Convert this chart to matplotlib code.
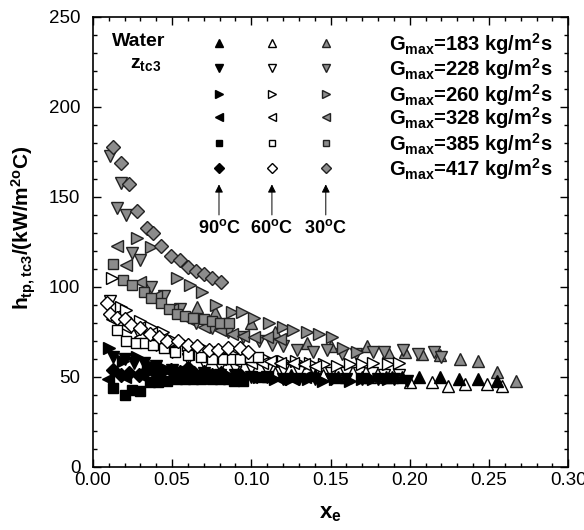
import matplotlib
matplotlib.use("Agg")
import matplotlib.pyplot as plt

plt.rcParams['font.family'] = ['Liberation Sans', 'DejaVu Sans']
plt.rcParams['mathtext.fontset'] = 'custom'
plt.rcParams['mathtext.rm'] = 'Liberation Sans:bold'
plt.rcParams['mathtext.bf'] = 'Liberation Sans:bold'
plt.rcParams['mathtext.it'] = 'Liberation Sans:bold'

# ---------------- data (x_e, h_tp) ----------------
G_labels = ["183", "228", "260", "328", "385", "417"]
temps = ["90", "60", "30"]
markers = ["^", "v", ">", "<", "s", "D"]

# 30 C (gray)
x_30_183 = [0.066, 0.077, 0.100, 0.115, 0.135, 0.150, 0.173, 0.186, 0.197, 0.208, 0.219, 0.232, 0.243, 0.255, 0.267]
y_30_183 = [89, 86, 80, 75, 69, 67, 67, 64, 64, 63, 62, 60, 59, 53, 48]
x_30_228 = [0.011, 0.015, 0.018, 0.021, 0.025, 0.030, 0.037, 0.045, 0.055, 0.065, 0.075, 0.085, 0.095, 0.105,
            0.113, 0.120, 0.129, 0.139, 0.148, 0.157, 0.166, 0.177, 0.184, 0.196, 0.205, 0.215, 0.220]
y_30_228 = [173, 144, 158, 140, 119, 115, 100, 95, 88, 80, 77, 75, 72, 70,
            68, 67, 65, 64, 65, 63, 63, 64, 64, 65, 63, 64, 61]
x_30_260 = [0.028, 0.037, 0.053, 0.061, 0.069, 0.078, 0.088, 0.094, 0.102, 0.111, 0.120, 0.126, 0.135, 0.143,
            0.151, 0.158, 0.167]
y_30_260 = [127, 122, 105, 101, 97, 90, 86, 86, 83, 80, 78, 76, 75, 74, 72, 66, 64]
x_30_328 = [0.015, 0.021, 0.030, 0.040, 0.050, 0.060, 0.070, 0.080, 0.088, 0.095, 0.102, 0.110, 0.118]
y_30_328 = [123, 112, 103, 95, 88, 82, 78, 76, 74, 73, 72, 72, 71]
x_30_385 = [0.013, 0.019, 0.025, 0.032, 0.037, 0.043, 0.048, 0.053, 0.058, 0.063, 0.070, 0.075, 0.080, 0.086]
y_30_385 = [113, 104, 101, 97, 94, 91, 88, 85, 84, 83, 82, 81, 80, 80]
x_30_417 = [0.013, 0.018, 0.023, 0.028, 0.034, 0.038, 0.043, 0.049, 0.055, 0.060, 0.065, 0.070, 0.075, 0.081]
y_30_417 = [178, 169, 157, 142, 133, 130, 123, 117, 115, 111, 109, 107, 105, 103]

# 60 C (white)
x_60_183 = [0.100, 0.115, 0.130, 0.145, 0.160, 0.175, 0.189, 0.200, 0.214, 0.224, 0.235, 0.249, 0.258]
y_60_183 = [53, 52, 51, 51, 50, 50, 50, 47, 47, 45, 46, 46, 45]
x_60_228 = [0.011, 0.020, 0.030, 0.040, 0.050, 0.060, 0.070, 0.080, 0.090, 0.100, 0.110, 0.120, 0.130,
            0.140, 0.150, 0.160, 0.168, 0.176, 0.184, 0.193]
y_60_228 = [92, 80, 73, 68, 64, 60, 58, 56, 55, 55, 54, 54, 53, 53, 52, 52, 52, 52, 51, 51]
x_60_260 = [0.012, 0.018, 0.021, 0.030, 0.037, 0.044, 0.052, 0.060, 0.070, 0.080, 0.090, 0.100, 0.110,
            0.120, 0.128, 0.137, 0.146, 0.154, 0.162, 0.170, 0.177, 0.186, 0.193]
y_60_260 = [105, 89, 87, 81, 78, 75, 70, 68, 66, 64, 62, 61, 60, 59, 59, 58, 57, 56, 57, 57, 58, 57, 58]
x_60_328 = [0.012, 0.020, 0.030, 0.040, 0.050, 0.060, 0.070, 0.080, 0.090, 0.100, 0.107, 0.112, 0.118,
            0.126, 0.133, 0.140]
y_60_328 = [82, 78, 72, 68, 65, 63, 62, 60, 59, 58, 58, 59, 58, 58, 57, 56]
x_60_385 = [0.015, 0.021, 0.027, 0.033, 0.038, 0.045, 0.052, 0.060, 0.068, 0.075, 0.082, 0.088, 0.093, 0.099, 0.104]
y_60_385 = [76, 70, 69, 69, 68, 66, 64, 62, 61, 60, 60, 60, 60, 61, 61]
x_60_417 = [0.009, 0.011, 0.015, 0.020, 0.024, 0.030, 0.036, 0.042, 0.047, 0.054, 0.060, 0.066, 0.073,
            0.079, 0.085, 0.093, 0.098]
y_60_417 = [91, 85, 83, 82, 79, 77, 74, 72, 70, 70, 68, 67, 65, 65, 66, 66, 64]

# 90 C (black)
x_90_183 = [0.125, 0.140, 0.155, 0.170, 0.185, 0.195, 0.206, 0.219, 0.231, 0.243, 0.255]
y_90_183 = [51, 51, 50, 50, 50, 50, 50, 50, 49, 49, 48]
x_90_228 = [0.013, 0.020, 0.026, 0.032, 0.040, 0.050, 0.060, 0.070, 0.080, 0.090, 0.100, 0.110, 0.120,
            0.130, 0.140, 0.150, 0.160, 0.170, 0.180, 0.190, 0.198]
y_90_228 = [61, 60, 58, 58, 56, 54, 53, 52, 51, 51, 50, 50, 49, 49, 49, 49, 49, 49, 49, 49, 48]
x_90_260 = [0.010, 0.019, 0.028, 0.035, 0.045, 0.055, 0.065, 0.075, 0.085, 0.095, 0.105, 0.115, 0.125,
            0.136, 0.145, 0.153, 0.162, 0.170, 0.177, 0.186]
y_90_260 = [66, 59, 61, 57, 55, 53, 52, 51, 51, 50, 50, 49, 49, 49, 48, 49, 48, 49, 49, 49]
x_90_328 = [0.0095, 0.020, 0.030, 0.040, 0.050, 0.060, 0.070, 0.080, 0.090, 0.100, 0.110, 0.118, 0.126, 0.134]
y_90_328 = [49, 50, 51, 51, 52, 51, 51, 50, 50, 50, 50, 49, 49, 50]
x_90_385 = [0.013, 0.020, 0.025, 0.030, 0.036, 0.041, 0.047, 0.053, 0.058, 0.063, 0.068, 0.075, 0.080,
            0.085, 0.089, 0.095, 0.107, 0.110]
y_90_385 = [44, 40, 43, 42, 47, 47, 48, 49, 49, 49, 49, 49, 49, 49, 48, 48, 50, 50]
x_90_417 = [0.013, 0.018, 0.023, 0.029, 0.033, 0.038, 0.043, 0.049, 0.055, 0.060, 0.064, 0.070, 0.075,
            0.081, 0.088, 0.093]
y_90_417 = [54, 51, 52, 51, 53, 54, 53, 54, 53, 55, 52, 53, 51, 52, 49, 51]

series = {
    "90": [(x_90_183, y_90_183), (x_90_228, y_90_228), (x_90_260, y_90_260),
           (x_90_328, y_90_328), (x_90_385, y_90_385), (x_90_417, y_90_417)],
    "60": [(x_60_183, y_60_183), (x_60_228, y_60_228), (x_60_260, y_60_260),
           (x_60_328, y_60_328), (x_60_385, y_60_385), (x_60_417, y_60_417)],
    "30": [(x_30_183, y_30_183), (x_30_228, y_30_228), (x_30_260, y_30_260),
           (x_30_328, y_30_328), (x_30_385, y_30_385), (x_30_417, y_30_417)],
}

styles = {
    "90": dict(mfc="black", mec="black"),
    "60": dict(mfc="white", mec="black"),
    "30": dict(mfc="#8c8c8c", mec="#222222"),
}
msize = {"^": 8.5, "v": 8.5, ">": 8.5, "<": 8.5, "s": 7, "D": 7}

fig = plt.figure(figsize=(5.84, 5.30), dpi=100)
ax = fig.add_axes([0.159, 0.119, 0.814, 0.849])

for t in ["30", "60", "90"]:
    for (xs, ys), m in zip(series[t], markers):
        ax.plot(xs, ys, linestyle="none", marker=m, ms=msize[m], mew=1.0, **styles[t])

# in-plot legend block
leg_x = [0.0796, 0.113, 0.147]
leg_y = [235.6, 221.7, 207.2, 194.4, 180.0, 166.1]
for t, lx in zip(temps, leg_x):
    for m, ly in zip(markers, leg_y):
        ax.plot([lx], [ly], linestyle="none", marker=m, ms=msize[m] * 0.7, mew=1.0, **styles[t])
    ax.annotate("", xy=(lx, 157), xytext=(lx, 140),
                arrowprops=dict(arrowstyle="-|>", color="black", lw=0.7, mutation_scale=12,
                                shrinkA=0, shrinkB=0))
    ax.text(lx, 132.5, t + r"$^{\mathrm{o}}$C", ha="center", va="center", fontsize=13, fontweight="bold")

for g, ly in zip(G_labels, leg_y):
    ax.text(0.187, ly - 4.2, r"G$_{\mathrm{max}}$=" + g + r" kg/m$^{\mathrm{2}}$s", ha="left", va="baseline",
            fontsize=14.5, fontweight="bold")

ax.text(0.012, 234, "Water", ha="left", va="baseline", fontsize=14, fontweight="bold")
ax.text(0.0234, 221.5, r"z$_{\mathrm{tc3}}$", ha="left", va="baseline", fontsize=14, fontweight="bold")

ax.set_xlim(0, 0.30)
ax.set_ylim(0, 250)
ax.set_xticks([0.00, 0.05, 0.10, 0.15, 0.20, 0.25, 0.30])
ax.set_xticklabels(["0.00", "0.05", "0.10", "0.15", "0.20", "0.25", "0.30"])
ax.set_yticks([0, 50, 100, 150, 200, 250])
ax.xaxis.set_minor_locator(matplotlib.ticker.MultipleLocator(0.01))
ax.yaxis.set_minor_locator(matplotlib.ticker.MultipleLocator(10))
ax.tick_params(which="both", direction="in", top=True, right=True, labelsize=13.5, width=1.0)
ax.tick_params(which="major", length=6)
ax.tick_params(which="minor", length=3)
ax.tick_params(axis="y", which="major", pad=9)
for s in ax.spines.values():
    s.set_linewidth(1.2)

ax.set_xlabel(r"x$_{\mathrm{e}}$", fontsize=16, fontweight="bold", labelpad=10)
ax.set_ylabel(r"h$_{\mathrm{tp,tc3}}$/(kW/m$^{\mathrm{2o}}$C)", fontsize=15, fontweight="bold")
ax.yaxis.set_label_coords(-0.115, 0.531)

fig.savefig("out.png", dpi=100)
